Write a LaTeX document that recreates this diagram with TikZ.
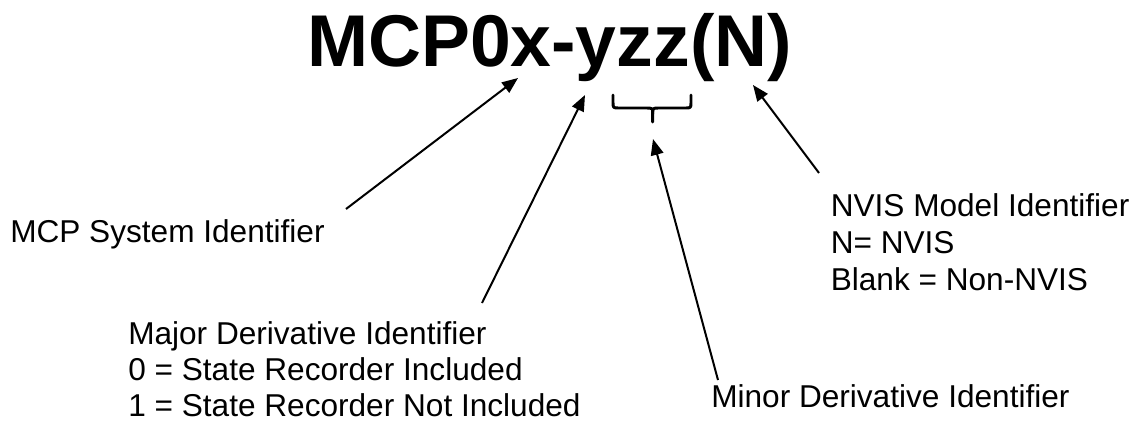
\documentclass[tikz,border=0pt]{standalone}
\usepackage{fontspec}
\setmainfont{Liberation Sans}
\usetikzlibrary{arrows.meta}
\begin{document}
\begin{tikzpicture}[x=0.75pt,y=-0.75pt,
  lbl/.style={anchor=base west,inner sep=0pt,font=\fontsize{23.7}{27}\selectfont},
  ttl/.style={anchor=base,inner sep=0pt,font=\fontsize{55}{60}\selectfont\bfseries},
  pointer/.style={line width=1.5pt,-{Triangle[length=12pt,width=9.5pt]}},
  bracepath/.style={line width=2.2pt,line cap=round,line join=round}]
\useasboundingbox (0,0) rectangle (1143,421);
\fill[white] (0,0) rectangle (1143,421);
% title
\node[ttl] (title) at (549.5,66) {MCP0x-yzz(N)};
% labels
\node[lbl] (sys) at (10,242) {MCP System Identifier};
\node[lbl] (nvisA) at (830.5,216) {NVIS Model Identifier};
\node[lbl] (nvisB) at (830.5,253) {N= NVIS};
\node[lbl] (nvisC) at (830.5,290) {Blank = Non-NVIS};
\node[lbl] (majA) at (128,344) {Major Derivative Identifier};
\node[lbl] (majB) at (128,380) {0 = State Recorder Included};
\node[lbl] (majC) at (128,416) {1 = State Recorder Not Included};
\node[lbl] (minA) at (711,407) {Minor Derivative Identifier};
% connector ends
\coordinate (sysS) at (346,209);
\coordinate (sysT) at (518,78);
\coordinate (majS) at (482,303);
\coordinate (majT) at (585,95);
\coordinate (minS) at (718,380);
\coordinate (minT) at (653,139);
\coordinate (nvS) at (819,173);
\coordinate (nvT) at (753,85);
\draw[pointer] (sysS) -- (sysT);
\draw[pointer] (majS) -- (majT);
\draw[pointer] (minS) -- (minT);
\draw[pointer] (nvS) -- (nvT);
% brace under zz
\coordinate (bL) at (613,95);
\coordinate (bR) at (691,95);
\coordinate (bM) at (652.7,122);
\draw[bracepath] (bL) -- (613,102) .. controls (613,108) .. (619,108) -- (646,108)
  .. controls (652.7,108) .. (652.7,114) -- (bM);
\draw[bracepath] (bR) -- (691,102) .. controls (691,108) .. (685,108) -- (659,108)
  .. controls (652.7,108) .. (652.7,114);
\end{tikzpicture}
\end{document}
